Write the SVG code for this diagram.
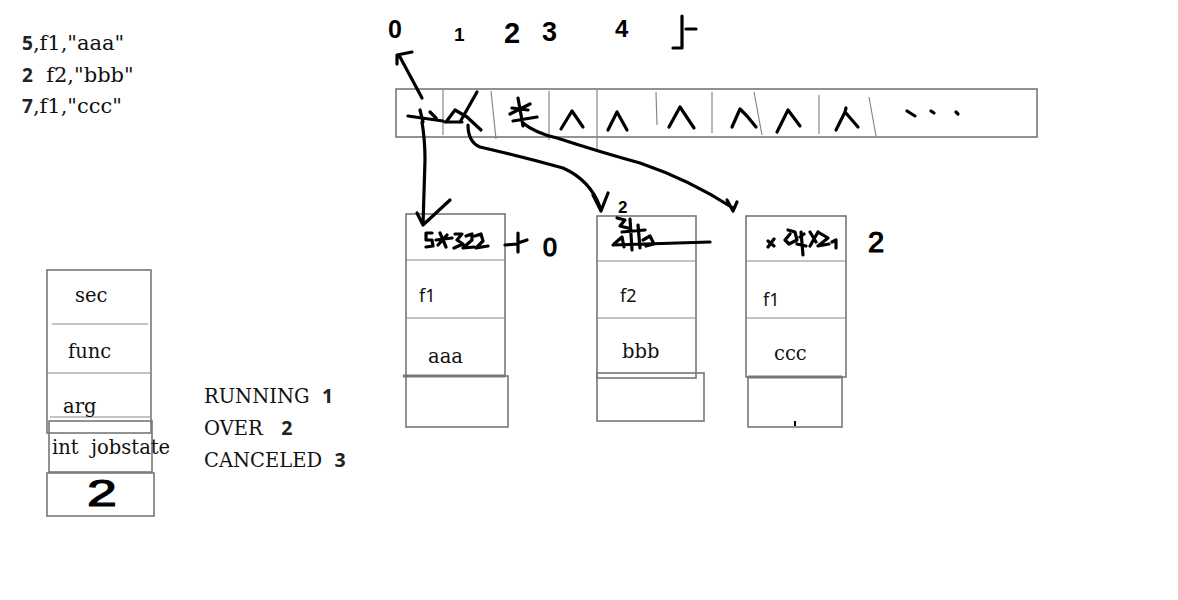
<svg xmlns="http://www.w3.org/2000/svg" width="1178" height="600" viewBox="0 0 1178 600">
<style>
text{white-space:pre}
.box{fill:none;stroke:#777;stroke-width:1.6}
.thin{fill:none;stroke:#888;stroke-width:1.2}
.ink{fill:none;stroke:#000;stroke-width:3.2;stroke-linecap:round;stroke-linejoin:round}
.serif{font-family:"DejaVu Serif","Liberation Serif",serif;font-size:19.5px;fill:#111}
.big{font-size:21px}
.sans{font-family:"Noto Sans","DejaVu Sans",sans-serif;font-size:18px;fill:#111}
.dig{font-family:"Noto Sans","DejaVu Sans",sans-serif;font-weight:bold;fill:#222}
.hand{font-family:"Liberation Sans","DejaVu Sans",sans-serif;font-weight:bold;fill:#000}
.handn{font-family:"Liberation Sans","DejaVu Sans",sans-serif;font-weight:normal;fill:#000;stroke:#000;stroke-width:1.2}
</style>
<rect width="1178" height="600" fill="#fff"/>

<g id="input-lines">
<text x="22" y="50" class="serif big"><tspan class="dig" font-size="19">5</tspan>,f1,"aaa"</text>
<text x="22" y="82" class="serif big"><tspan class="dig" font-size="19">2</tspan>  f2,"bbb"</text>
<text x="22" y="113" class="serif big"><tspan class="dig" font-size="19">7</tspan>,f1,"ccc"</text>
</g>

<g id="indices">
<text x="388" y="38" class="hand" font-size="25">0</text>
<text x="454" y="41" class="hand" font-size="19">1</text>
<text x="504" y="43" class="hand" font-size="29">2</text>
<text x="542" y="41" class="hand" font-size="27">3</text>
<text x="615" y="37" class="hand" font-size="24">4</text>
<path class="ink" d="M682,16 L682,48 L673,48 M686,29 L696,29"/>
</g>

<g id="array">
<rect class="box" x="396" y="89" width="641" height="48"/>
<path class="thin" d="M443,89 L443,135 M491,91 L496,139 M549,91 L549,140 M597,90 L597,152 M656,92 L657,125 M712,92 L712,133 M754,92 L762,135 M819,95 L819,134 M869,97 L876,136"/>
<path class="ink" d="M408,116 L443,121 M420,110 L423,122 M430,112 L436,118"/>
<path class="ink" d="M477,92 L460,122 M446,122 L455,110 L467,117 L481,130 M445,122 L462,122"/>
<path class="ink" d="M512,108 L528,110 M518,98 L523,126 M513,121 L537,117 M510,114 L530,104"/>
<path class="ink" d="M561,129 L572,111 L583,127"/>
<path class="ink" d="M608,130 L617,112 L627,130"/>
<path class="ink" d="M669,127 L680,107 L694,128"/>
<path class="ink" d="M732,127 L740,109 L747,116 L756,127"/>
<path class="ink" d="M777,132 L788,110 L800,126"/>
<path class="ink" d="M836,130 L845,112 L858,127 M845,112 L846,108"/>
<path class="ink" d="M907,111 L915,116 M931,111 L934,113 M956,112 L958,114"/>
</g>

<g id="node1">
<rect class="box" x="406" y="214" width="99" height="162"/>
<line class="thin" x1="406" y1="260" x2="505" y2="260"/>
<line class="thin" x1="406" y1="318" x2="505" y2="318"/>
<line x1="403" y1="376" x2="505" y2="376" stroke="#777" stroke-width="3"/>
<rect class="box" x="406" y="376" width="102" height="51"/>
<text x="419" y="302" class="sans">f1</text>
<text x="428" y="363" class="serif">aaa</text>
<path class="ink" stroke-width="2.6" d="M432,233 L426,233 L426,240 L432,240 L433,246 L426,247 M440,233 L446,247 M447,235 L438,245 M436,240 L452,238 M455,234 L462,234 L457,240 L463,244 L454,248 M466,236 L472,234 L472,240 L463,248 L474,247 M475,236 L481,234 L483,241 L476,248 L488,246 M505,245 L517,244 M518,233 L518,252 M518,243 L527,240"/>
<text x="543" y="256" class="handn" font-size="25">0</text>
</g>

<g id="node2">
<rect class="box" x="597" y="216" width="99" height="162"/>
<line class="thin" x1="597" y1="261" x2="696" y2="261"/>
<line class="thin" x1="597" y1="318" x2="696" y2="318"/>
<rect class="box" x="597" y="373" width="107" height="48"/>
<text x="620" y="302" class="sans">f2</text>
<text x="622" y="358" class="serif">bbb</text>
<path class="ink" stroke-width="2.6" d="M617,218 L625,220 L620,226 L628,228 M614,244 L622,237 L624,247 M630,219 L632,250 M622,232 L645,230 M638,225 L640,248 M613,245 L710,242 M643,240 L650,236 L654,244 L646,246"/>
<text x="618" y="213" class="hand" font-size="17">2</text>
</g>

<g id="node3">
<rect class="box" x="746" y="216" width="100" height="161"/>
<line class="thin" x1="746" y1="261" x2="846" y2="261"/>
<line class="thin" x1="746" y1="318" x2="846" y2="318"/>
<line x1="748" y1="377" x2="842" y2="377" stroke="#777" stroke-width="3"/>
<rect class="box" x="748" y="377" width="94" height="50"/>
<text x="763" y="306" class="sans">f1</text>
<text x="774" y="360" class="serif">ccc</text>
<path class="ink" stroke-width="2.6" d="M768,241 L774,246 M774,239 L768,247 M788,230 L795,232 L797,240 L789,244 L785,240 L790,234 M800,237 L804,234 M801,232 L803,255 M797,244 L806,246 M810,232 L816,242 M818,232 L810,246 M818,232 L828,238 L818,246 L829,244 M832,242 L836,240 L836,248"/>
<text x="868" y="252" class="handn" font-size="29">2</text>
<path d="M795,421 L795,426" stroke="#000" stroke-width="2"/>
</g>

<g id="struct">
<rect class="box" x="47" y="270" width="104" height="163"/>
<line class="thin" x1="52" y1="324" x2="148" y2="324"/>
<line class="thin" x1="47" y1="373" x2="150" y2="373"/>
<line class="thin" x1="50" y1="417" x2="150" y2="417"/>
<rect class="box" x="49" y="421" width="103" height="51" fill="#fff"/>
<rect class="box" x="47" y="473" width="107" height="43"/>
<text x="75" y="302" class="serif">sec</text>
<text x="68" y="358" class="serif">func</text>
<text x="63" y="413" class="serif">arg</text>
<text x="52" y="454" class="serif">int  jobstate</text>
<text x="0" y="0" class="handn" font-size="37" stroke-width="1.8" transform="translate(87,506) scale(1.45,1)">2</text>
</g>

<g id="states">
<text x="204" y="403" class="serif">RUNNING  <tspan class="dig">1</tspan></text>
<text x="204" y="435" class="serif">OVER   <tspan class="dig">2</tspan></text>
<text x="204" y="467" class="serif">CANCELED  <tspan class="dig">3</tspan></text>
</g>

<g id="connectors">
<path class="ink" d="M422,98 L400,57 M397,64 L397,55 L412,52"/>
<path class="ink" d="M422,122 Q425,140 425,160 L423,225 M417,213 L423,225 L450,200"/>
<path class="ink" d="M468,125 Q468,142 480,147 Q523,157 563,168 Q590,180 600,207 M593,195 L601,211 L608,193"/>
<path class="ink" d="M523,123 Q535,133 557,138 Q600,152 640,163 Q690,180 733,208 M727,200 L733,211 L737,202"/>
</g>
</svg>
